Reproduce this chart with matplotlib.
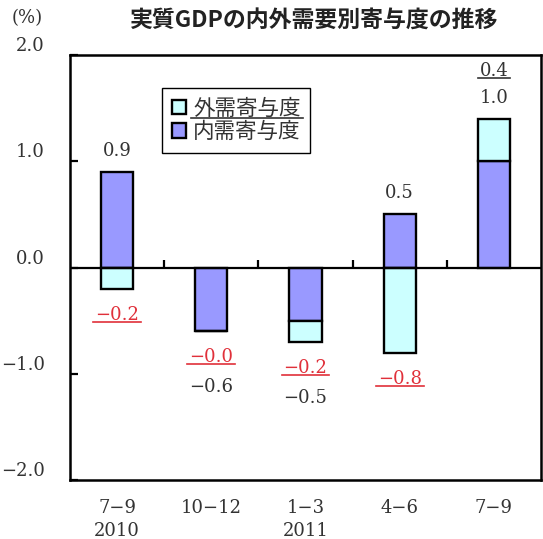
import matplotlib
matplotlib.use('Agg')

import numpy as np
import matplotlib.pyplot as plt
from matplotlib.lines import Line2D
from matplotlib.transforms import IdentityTransform

# quarters and contributions to real GDP growth (%)
quarters = ['7−9\n2010', '10−12', '1−3\n2011', '4−6', '7−9']
domestic = [0.9, -0.6, -0.5, 0.5, 1.0]
external = [-0.2, -0.0, -0.2, -0.8, 0.4]
yticks = [-2.0, -1.0, 0.0, 1.0, 2.0]

title = '実質GDPの内外需要別寄与度の推移'
ext_name = '外需寄与度'
dom_name = '内需寄与度'

col_dom = '#9999FF'
col_ext = '#CCFFFF'
col_txt = '#333333'
col_red = '#E0303A'
jp = 'Noto Sans CJK JP'
num = 'DejaVu Serif'


def fmt(v):
    return '{:.1f}'.format(v).replace('-', '−')


fig = plt.figure(figsize=(5.43, 5.39), dpi=100)
ax = fig.add_axes([70 / 543, 1 - 480 / 539, 471 / 543, 425 / 539])

x = np.arange(len(quarters))
dom = np.array(domestic)
ext = np.array(external)

# external stacks on domestic when both point the same way
same = np.signbit(dom) == np.signbit(ext)
ext_bottom = np.where(same, dom, 0.0)

w = 0.34
dom_bars = ax.bar(x, dom, w, color=col_dom, edgecolor='black', linewidth=1.7, zorder=3)
ext_bars = ax.bar(x, ext, w, bottom=ext_bottom, color=col_ext, edgecolor='black',
                  linewidth=1.7, zorder=3)

ax.axhline(0, color='black', linewidth=1.6, zorder=4)
# little ticks on the zero line between quarters
ax.vlines(x[:-1] + 0.5, 0, 0.075, color='black', linewidth=1.6, zorder=4)

ax.set_xlim(-0.5, len(quarters) - 0.5)
ax.set_ylim(-2, 2)
ax.set_yticks(yticks)
ax.set_yticklabels([fmt(v) for v in yticks], fontfamily=num, fontsize=13, color=col_txt)
for lab in ax.get_yticklabels():
    lab.set_verticalalignment('bottom')
ax.tick_params(axis='y', direction='in', length=6, width=1.6, pad=18)
ax.set_xticks(x)
ax.set_xticklabels(quarters, fontfamily=num, fontsize=13, color=col_txt, linespacing=1.3)
ax.tick_params(axis='x', length=0, pad=14)
for s in ax.spines.values():
    s.set_linewidth(1.8)

# value labels
underlined = []
for i in range(len(x)):
    d, e = dom[i], ext[i]
    top = max(d, 0) + (max(e, 0) if same[i] else 0) if d >= 0 else max(e, 0)
    bot = min(d, 0) + (min(e, 0) if same[i] else 0) if d < 0 else min(e, 0)
    above, below = [], []
    if d >= 0:
        above.append((d, False))
    else:
        below.append((d, False))
    if np.signbit(e):
        below.insert(0, (e, True))
    else:
        above.append((e, True))
    for k, (v, is_ext) in enumerate(above):
        t = ax.annotate(fmt(v), (x[i], top), xytext=(0, 21 + 27 * k),
                        textcoords='offset pixels', ha='center', va='center',
                        fontfamily=num, fontsize=13, color=col_txt)
        if is_ext:
            underlined.append(t)
    for k, (v, is_ext) in enumerate(below):
        c = col_red if is_ext else col_txt
        t = ax.annotate(fmt(v), (x[i], bot), xytext=(0, -26 - 30 * k),
                        textcoords='offset pixels', ha='center', va='center',
                        fontfamily=num, fontsize=13, color=c)
        if is_ext:
            underlined.append(t)

leg = ax.legend([ext_bars, dom_bars], [ext_name, dom_name],
                prop={'family': jp, 'size': 15.5}, loc='upper left',
                bbox_to_anchor=(0.195, 0.922), borderaxespad=0,
                handlelength=0.65, handleheight=0.65, handletextpad=0.35,
                borderpad=0.45, labelspacing=0.05, fancybox=False,
                edgecolor='black', framealpha=1)
leg.get_frame().set_linewidth(1.0)
for t in leg.get_texts():
    t.set_color(col_txt)

fig.text(27 / 543, 1 - 18 / 539, '(%)', ha='center', va='center',
         fontfamily=num, fontsize=13, color=col_txt)
fig.text(314 / 543, 1 - 20 / 539, title, ha='center', va='center',
         fontfamily=jp, fontsize=16.5, fontweight='bold', color='#222222')

# underline the external-demand numbers and legend entry
fig.canvas.draw()
rend = fig.canvas.get_renderer()
for t in underlined + [leg.get_texts()[0]]:
    bb = t.get_window_extent(rend)
    fig.add_artist(Line2D([bb.x0 - 2, bb.x1 + 2], [bb.y0 + 2, bb.y0 + 2],
                          transform=IdentityTransform(), color=t.get_color(),
                          linewidth=1.2))

fig.savefig('out.png', dpi=100)
